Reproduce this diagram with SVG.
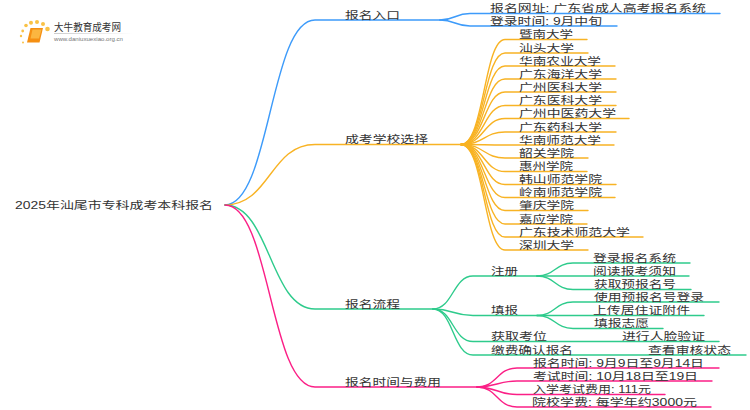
<svg xmlns="http://www.w3.org/2000/svg" width="750" height="410" viewBox="0 0 750 410">
<style>
text{font-family:"Liberation Sans","Noto Sans CJK SC",sans-serif;font-size:10.5px;fill:#333}
path{fill:none;stroke-width:1.4;stroke-linecap:round}
.b path{stroke:#3d9bfa}.o path{stroke:#f8b324}.g path{stroke:#2ecb8c}.p path{stroke:#fb1f86}
</style>
<defs><linearGradient id="fade" x1="0" x2="1" y1="0" y2="0"><stop offset="0" stop-color="#ccc"/><stop offset="1" stop-color="#fff"/></linearGradient></defs>
<rect width="750" height="410" fill="#fff"/>
<g id="logo">
<g fill="#f9c246"><circle cx="26" cy="25.500" r="1.800"/><circle cx="31" cy="22.700" r="2"/><circle cx="37" cy="22" r="2"/><circle cx="43" cy="24" r="2"/><circle cx="47.500" cy="29" r="2.300"/><circle cx="22.700" cy="31" r="1.400"/><circle cx="21" cy="36" r="1.200"/><circle cx="23" cy="42.500" r="1"/></g>
<path d="M30.500 28H43L39.500 42.500H27Z" style="fill:#f58f12;stroke:none"/><path d="M32.500 29.500H41.500L39 38.500H30.500Z" style="fill:#fbb640;stroke:none"/>
<text x="54" y="31" textLength="67" lengthAdjust="spacingAndGlyphs">大牛教育成考网</text>
<rect x="54" y="33" width="79" height="1" fill="url(#fade)"/>
<text x="54" y="41" textLength="69" lengthAdjust="spacingAndGlyphs" style="font-size:6px;fill:#777">www.daniuxuexiao.org.cn</text>
</g>
<g id="connectors">
<g class="b"><path d="M225 205C270 205 270 20 315 20H440"/><path d="M440 20C455 20 455 13.500 470 13.500H720"/><path d="M440 20C455 20 455 26 470 26H617"/></g>
<g class="o"><path d="M225 205C270 205 270 144.500 315 144.500H461"/>
<path d="M461 144.500C484 144.500 484 39.500 505 39.500H587"/><path d="M461 144.500C484 144.500 484 53 505 53H588"/><path d="M461 144.500C484 144.500 484 66 505 66H615"/><path d="M461 144.500C484 144.500 484 79 505 79H616"/><path d="M461 144.500C484 144.500 484 92 505 92H616"/><path d="M461 144.500C484 144.500 484 105.500 505 105.500H616"/><path d="M461 144.500C484 144.500 484 118.500 505 118.500H629"/><path d="M461 144.500C484 144.500 484 132 505 132H616"/><path d="M461 144.500C484 144.500 484 145 505 145H614"/><path d="M461 144.500C484 144.500 484 158 505 158H588"/><path d="M461 144.500C484 144.500 484 171.500 505 171.500H587"/><path d="M461 144.500C484 144.500 484 184.500 505 184.500H616"/><path d="M461 144.500C484 144.500 484 197.500 505 197.500H615"/><path d="M461 144.500C484 144.500 484 210.500 505 210.500H588"/><path d="M461 144.500C484 144.500 484 224 505 224H587"/><path d="M461 144.500C484 144.500 484 237 505 237H643"/><path d="M461 144.500C484 144.500 484 250 505 250H588"/></g>
<g class="g"><path d="M225 205C270 205 270 309 315 309H433"/>
<path d="M433 309C453 309 453 276 473 276H537"/><path d="M433 309C453 309 453 315.500 473 315.500H537"/><path d="M433 309C453 309 453 341.500 473 341.500H719"/><path d="M433 309C453 309 453 355 473 355H746"/>
<path d="M537 276C555 276 555 263 573 263H690"/><path d="M537 276C555 276 555 276 573 276H689"/><path d="M537 276C555 276 555 289.500 573 289.500H691"/>
<path d="M537 315.500C555 315.500 555 302 573 302H719"/><path d="M537 315.500C555 315.500 555 315.500 573 315.500H704"/><path d="M537 315.500C555 315.500 555 328.500 573 328.500H663"/></g>
<g class="p"><path d="M225 205C270 205 270 387 315 387H477"/>
<path d="M477 387C497 387 497 368 517 368H719"/><path d="M477 387C497 387 497 381 517 381H712"/><path d="M477 387C497 387 497 394.500 517 394.500H665"/><path d="M477 387C497 387 497 407 517 407H711"/></g>
</g>
<g id="root"><text x="15" y="209" textLength="198" lengthAdjust="spacingAndGlyphs">2025年汕尾市专科成考本科报名</text></g>
<g id="n1"><text x="345" y="18.500" textLength="55" lengthAdjust="spacingAndGlyphs">报名入口</text></g>
<g id="n1a"><text x="490" y="12" textLength="216" lengthAdjust="spacingAndGlyphs">报名网址: 广东省成人高考报名系统</text></g>
<g id="n1b"><text x="490" y="24.500" textLength="112" lengthAdjust="spacingAndGlyphs">登录时间: 9月中旬</text></g>
<g id="n2"><text x="345" y="143" textLength="83" lengthAdjust="spacingAndGlyphs">成考学校选择</text></g>
<g id="s1"><text x="519" y="38" textLength="54" lengthAdjust="spacingAndGlyphs">暨南大学</text></g>
<g id="s2"><text x="519" y="51.500" textLength="55" lengthAdjust="spacingAndGlyphs">汕头大学</text></g>
<g id="s3"><text x="519" y="64.500" textLength="82" lengthAdjust="spacingAndGlyphs">华南农业大学</text></g>
<g id="s4"><text x="519" y="77.500" textLength="83" lengthAdjust="spacingAndGlyphs">广东海洋大学</text></g>
<g id="s5"><text x="519" y="90.500" textLength="83" lengthAdjust="spacingAndGlyphs">广州医科大学</text></g>
<g id="s6"><text x="519" y="104" textLength="83" lengthAdjust="spacingAndGlyphs">广东医科大学</text></g>
<g id="s7"><text x="519" y="117" textLength="97" lengthAdjust="spacingAndGlyphs">广州中医药大学</text></g>
<g id="s8"><text x="519" y="130.500" textLength="83" lengthAdjust="spacingAndGlyphs">广东药科大学</text></g>
<g id="s9"><text x="519" y="143.500" textLength="82" lengthAdjust="spacingAndGlyphs">华南师范大学</text></g>
<g id="s10"><text x="519" y="156.500" textLength="55" lengthAdjust="spacingAndGlyphs">韶关学院</text></g>
<g id="s11"><text x="519" y="170" textLength="54" lengthAdjust="spacingAndGlyphs">惠州学院</text></g>
<g id="s12"><text x="519" y="183" textLength="83" lengthAdjust="spacingAndGlyphs">韩山师范学院</text></g>
<g id="s13"><text x="519" y="196" textLength="83" lengthAdjust="spacingAndGlyphs">岭南师范学院</text></g>
<g id="s14"><text x="519" y="209" textLength="55" lengthAdjust="spacingAndGlyphs">肇庆学院</text></g>
<g id="s15"><text x="519" y="222.500" textLength="54" lengthAdjust="spacingAndGlyphs">嘉应学院</text></g>
<g id="s16"><text x="519" y="235.500" textLength="111" lengthAdjust="spacingAndGlyphs">广东技术师范大学</text></g>
<g id="s17"><text x="519" y="248.500" textLength="55" lengthAdjust="spacingAndGlyphs">深圳大学</text></g>
<g id="n3"><text x="345" y="307.500" textLength="55" lengthAdjust="spacingAndGlyphs">报名流程</text></g>
<g id="n3a"><text x="491" y="274.500" textLength="27" lengthAdjust="spacingAndGlyphs">注册</text></g>
<g id="n3a1"><text x="593" y="261.500" textLength="83" lengthAdjust="spacingAndGlyphs">登录报名系统</text></g>
<g id="n3a2"><text x="593" y="274.500" textLength="83" lengthAdjust="spacingAndGlyphs">阅读报考须知</text></g>
<g id="n3a3"><text x="594" y="288" textLength="82" lengthAdjust="spacingAndGlyphs">获取预报名号</text></g>
<g id="n3b"><text x="491" y="314" textLength="27" lengthAdjust="spacingAndGlyphs">填报</text></g>
<g id="n3b1"><text x="594" y="300.500" textLength="110" lengthAdjust="spacingAndGlyphs">使用预报名号登录</text></g>
<g id="n3b2"><text x="593" y="314" textLength="97" lengthAdjust="spacingAndGlyphs">上传居住证附件</text></g>
<g id="n3b3"><text x="594" y="327" textLength="55" lengthAdjust="spacingAndGlyphs">填报志愿</text></g>
<g id="n3c"><text x="491" y="340" textLength="56" lengthAdjust="spacingAndGlyphs">获取考位</text></g>
<g id="n3c1"><text x="622" y="340" textLength="83" lengthAdjust="spacingAndGlyphs">进行人脸验证</text></g>
<g id="n3d"><text x="491" y="353.500" textLength="82" lengthAdjust="spacingAndGlyphs">缴费确认报名</text></g>
<g id="n3d1"><text x="648" y="353.500" textLength="83" lengthAdjust="spacingAndGlyphs">查看审核状态</text></g>
<g id="n4"><text x="345" y="386" textLength="96" lengthAdjust="spacingAndGlyphs">报名时间与费用</text></g>
<g id="n4a"><text x="533" y="366.500" textLength="171" lengthAdjust="spacingAndGlyphs">报名时间: 9月9日至9月14日</text></g>
<g id="n4b"><text x="533" y="379.500" textLength="165" lengthAdjust="spacingAndGlyphs">考试时间: 10月18日至19日</text></g>
<g id="n4c"><text x="533" y="393" textLength="118" lengthAdjust="spacingAndGlyphs">入学考试费用: 111元</text></g>
<g id="n4d"><text x="532" y="405.500" textLength="165" lengthAdjust="spacingAndGlyphs">院校学费: 每学年约3000元</text></g>
</svg>
